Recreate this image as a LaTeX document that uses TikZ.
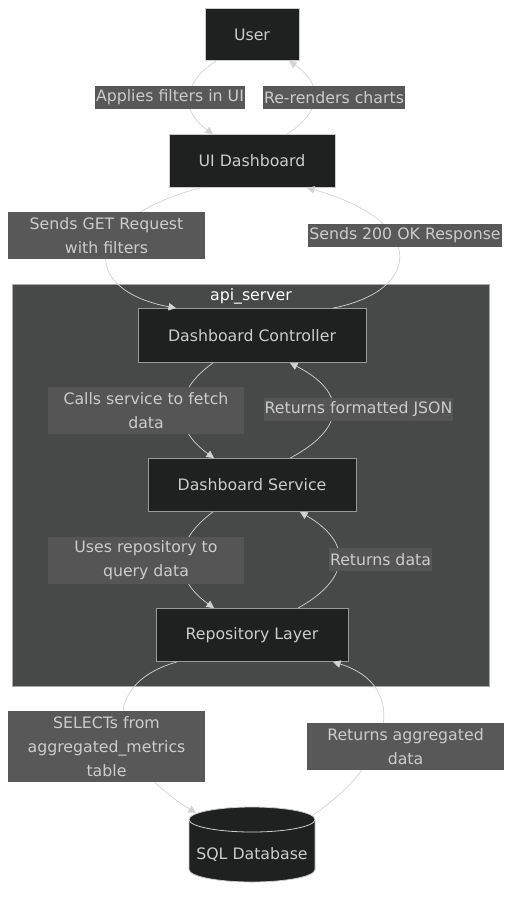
\documentclass[tikz,border=0pt]{standalone}
\usepackage{fontspec}
\setmainfont{DejaVu Sans}
\usepackage{tikz}
\usetikzlibrary{arrows.meta,calc}

\definecolor{boxfill}{HTML}{1F2020}
\definecolor{boxline}{HTML}{CCCCCC}
\definecolor{innerline}{HTML}{999999}
\definecolor{txt}{HTML}{CCCCCC}
\definecolor{lblfill}{HTML}{585858}
\definecolor{innerlbl}{HTML}{555555}
\definecolor{clusterfill}{HTML}{474949}
\definecolor{clusterline}{HTML}{AAAAAA}
\definecolor{edgecol}{HTML}{D3D3D3}

\begin{document}
\begin{tikzpicture}[x=1pt,y=-1pt,
  every node/.style={font=\fontsize{15.75}{24}\selectfont,text=txt,inner sep=0pt},
  box/.style={draw=boxline,fill=boxfill,line width=0.8pt,minimum height=53pt},
  inbox/.style={box,draw=innerline},
  lbl/.style={fill=lblfill,align=center,minimum height=23pt,inner xsep=1pt},
  inlbl/.style={lbl,fill=innerlbl},
  flow/.style={draw=edgecol,line width=0.7pt,-{Triangle[length=7.5pt,width=7.5pt]}}]
  \useasboundingbox (0,0) rectangle (520,903);
  \fill[white] (0,0) rectangle (520,903);
  \draw[draw=clusterline,fill=clusterfill,line width=0.6pt] (12,284) rectangle (489,686);
  \node[text=white] (apiserver) at (251,296.5) {api\_server};

  \node[box,minimum width=94pt,minimum height=52pt] (user) at (252,34.5) {User};
  \node[box,minimum width=166pt] (ui) at (252,161) {UI Dashboard};
  \node[inbox,minimum width=228pt,minimum height=54pt] (ctrl) at (252,335.5) {Dashboard Controller};
  \node[inbox,minimum width=208pt] (svc) at (252,485) {Dashboard Service};
  \node[inbox,minimum width=192pt] (repo) at (252,635) {Repository Layer};
  \path[fill=boxfill,draw=boxline,line width=0.8pt] (189,819.5) -- (189,869.5)
    arc[start angle=180,end angle=360,x radius=63pt,y radius=12.5pt] -- (315,819.5)
    arc[start angle=0,end angle=180,x radius=63pt,y radius=12.5pt] -- cycle;
  \draw[boxline,line width=0.8pt] (189,819.5) arc[start angle=180,end angle=360,x radius=63pt,y radius=12.5pt];
  \node (db) at (252,855) {SQL Database};

  \draw[flow] ([xshift=-36pt]user.south) .. controls (181,84) and (181,111) .. ([xshift=-39pt]ui.north);
  \draw[flow] ([xshift=35pt]ui.north) .. controls (323,111) and (323,84) .. ([xshift=37pt]user.south);
  \draw[flow] ([xshift=-52pt]ui.south) .. controls (80,220) and (80,290) .. ([xshift=-76pt]ctrl.north);
  \draw[flow] ([xshift=81pt]ctrl.north) .. controls (425,290) and (425,220) .. ([xshift=55pt]ui.south);
  \draw[flow] ([xshift=-39pt]ctrl.south) .. controls (172,392) and (172,428) .. ([xshift=-38pt]svc.north);
  \draw[flow] ([xshift=38pt]svc.north) .. controls (347,428) and (347,392) .. ([xshift=38pt]ctrl.south);
  \draw[flow] ([xshift=-39pt]svc.south) .. controls (172,542) and (172,578) .. ([xshift=-38pt]repo.north);
  \draw[flow] ([xshift=46pt]repo.north) .. controls (352,578) and (352,542) .. ([xshift=48pt]svc.south);
  \draw[flow] ([xshift=-75pt]repo.south) .. controls (95,685) and (110,760) .. ([shift={(-56pt,42pt)}]db.center);
  \draw[flow] ([shift={(61pt,40pt)}]db.center) .. controls (394,760) and (409,685) .. ([xshift=81pt]repo.south);

  \node[lbl] (applies) at (170,97.5) {Applies filters in UI};
  \node[lbl] (rerenders) at (334,97.5) {Re-renders charts};
  \node[lbl,minimum width=197pt,minimum height=47pt] (sendsget) at (106.5,235.5) {Sends GET Request\\with filters};
  \node[lbl] (sendsok) at (405,235.5) {Sends 200 OK Response};
  \node[inlbl,minimum width=196pt,minimum height=47pt] (calls) at (146,410.5) {Calls service to fetch\\data};
  \node[inlbl] (retjson) at (358.5,409.5) {Returns formatted JSON};
  \node[inlbl,minimum width=196pt,minimum height=47pt] (uses) at (146,560.5) {Uses repository to\\query data};
  \node[inlbl] (retdata) at (380.5,559.5) {Returns data};
  \node[lbl,minimum width=197pt,minimum height=71pt] (selects) at (106.5,746.5) {SELECTs from\\aggregated\_metrics\\table};
  \node[lbl,minimum width=197pt,minimum height=47pt] (retagg) at (405.5,746.5) {Returns aggregated\\data};
\end{tikzpicture}
\end{document}
